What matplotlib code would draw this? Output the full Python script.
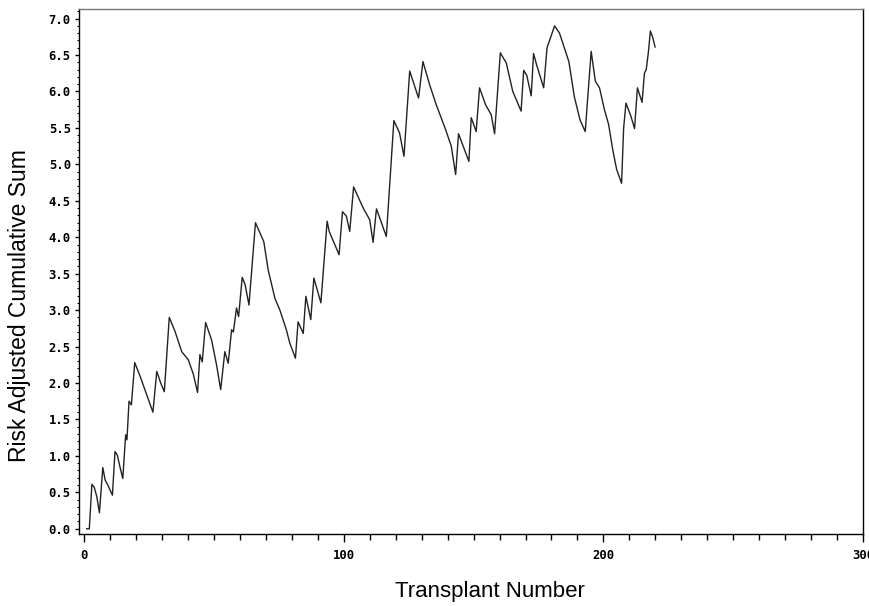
import matplotlib
matplotlib.use("Agg")
import matplotlib.pyplot as plt
from matplotlib.ticker import MultipleLocator

# CUSUM vertices (transplant number, cumulative sum)
transplant = [1, 2, 3, 3.9, 4.9, 5.9, 7.2, 8.1, 9.4, 10.9, 11.9, 12.8, 13.8, 14.9,
              16.0, 16.5, 17.3, 18.2, 19.5, 21.5, 24, 26.5, 28, 29.5, 30.9, 32.8,
              35, 37.6, 40.1, 42, 43.7, 44.6, 45.5, 46.8, 49.1, 51, 52.6, 54.2,
              55.5, 56.8, 57.5, 58.7, 59.5, 60.9, 62, 63.5, 66, 67.7, 69.2, 70.9,
              73.5, 75.4, 77.9, 79.2, 81.4, 82.4, 84.4, 85.4, 87.3, 88.5, 91.2,
              93.6, 94.4, 98.2, 99.5, 101, 102.3, 103.8, 107.5, 110, 111.3, 112.6,
              116.4, 119.3, 121.5, 123.2, 125.4, 128.8, 130.5, 133.1, 135.6, 139.2,
              141.4, 143.1, 144.2, 146, 148.2, 149.1, 151, 152.3, 154.6, 156.8,
              158.1, 160.3, 162.6, 165.1, 168.3, 169.3, 170.5, 172.2, 173.1, 174.4,
              177, 178.3, 181.2, 183.1, 186.7, 188.8, 191, 193, 195.3, 196.9, 198.5,
              200.4, 202, 203.6, 205.1, 207, 207.8, 208.7, 210.6, 212, 213.1, 214.9,
              215.8, 216.5, 217.3, 218.1, 219, 219.9]
cusum = [0, 0, 0.61, 0.57, 0.44, 0.22, 0.84, 0.67, 0.58, 0.46, 1.06, 1.01, 0.85, 0.69,
         1.29, 1.22, 1.75, 1.70, 2.28, 2.10, 1.85, 1.60, 2.16, 2.00, 1.88, 2.90,
         2.71, 2.43, 2.32, 2.13, 1.87, 2.39, 2.29, 2.83, 2.59, 2.25, 1.91, 2.43,
         2.27, 2.73, 2.70, 3.03, 2.91, 3.45, 3.35, 3.07, 4.20, 4.06, 3.94, 3.55,
         3.16, 3.00, 2.73, 2.55, 2.34, 2.84, 2.68, 3.19, 2.87, 3.44, 3.10,
         4.22, 4.08, 3.76, 4.35, 4.29, 4.08, 4.69, 4.40, 4.24, 3.93, 4.39,
         4.01, 5.60, 5.43, 5.11, 6.28, 5.91, 6.41, 6.09, 5.82, 5.48,
         5.25, 4.86, 5.42, 5.25, 5.04, 5.64, 5.45, 6.05, 5.82, 5.68,
         5.42, 6.53, 6.39, 6.00, 5.73, 6.29, 6.22, 5.94, 6.52, 6.35,
         6.05, 6.60, 6.90, 6.80, 6.41, 5.93, 5.61, 5.45, 6.55, 6.14, 6.05,
         5.75, 5.55, 5.20, 4.93, 4.74, 5.50, 5.84, 5.66, 5.49, 6.05, 5.85,
         6.25, 6.30, 6.53, 6.83, 6.74, 6.61]

x_ticks = [0, 100, 200, 300]
y_ticks = [0.0, 0.5, 1.0, 1.5, 2.0, 2.5, 3.0, 3.5, 4.0, 4.5, 5.0, 5.5, 6.0, 6.5, 7.0]

fig = plt.figure(figsize=(8.7, 6.06), dpi=100)
ax = fig.add_axes([0.091, 0.119, 0.901, 0.866])

ax.plot(transplant, cusum, color='#222222', linewidth=1.0)

ax.set_xlim(-1.9, 300)
ax.set_ylim(-0.07, 7.13)
ax.set_xticks(x_ticks)
ax.set_yticks(y_ticks)
ax.set_xticklabels([str(t) for t in x_ticks])
ax.set_yticklabels(['%.1f' % t for t in y_ticks])
ax.xaxis.set_minor_locator(MultipleLocator(10))
ax.yaxis.set_minor_locator(MultipleLocator(0.1))

for lab in ax.get_xticklabels() + ax.get_yticklabels():
    lab.set_fontfamily('DejaVu Sans Mono')
    lab.set_fontweight('bold')
    lab.set_fontsize(8.8)

ax.tick_params(axis='x', which='major', direction='out', length=6, width=1, pad=5)
ax.tick_params(axis='x', which='minor', direction='out', length=4, width=1)
ax.tick_params(axis='y', which='major', direction='out', length=3, width=1, pad=3)
ax.tick_params(axis='y', which='minor', direction='out', length=1.8, width=0.8)

for s in ax.spines.values():
    s.set_linewidth(1)
ax.spines['top'].set_color('#777777')

ax.set_xlabel('Transplant Number', family='Liberation Sans', fontsize=16)
ax.set_ylabel('Risk Adjusted Cumulative Sum', family='Liberation Sans', fontsize=16.5)
ax.xaxis.set_label_coords(0.524, -0.09)
ax.yaxis.set_label_coords(-0.062, 0.436)

fig.savefig('out.png', dpi=100)
